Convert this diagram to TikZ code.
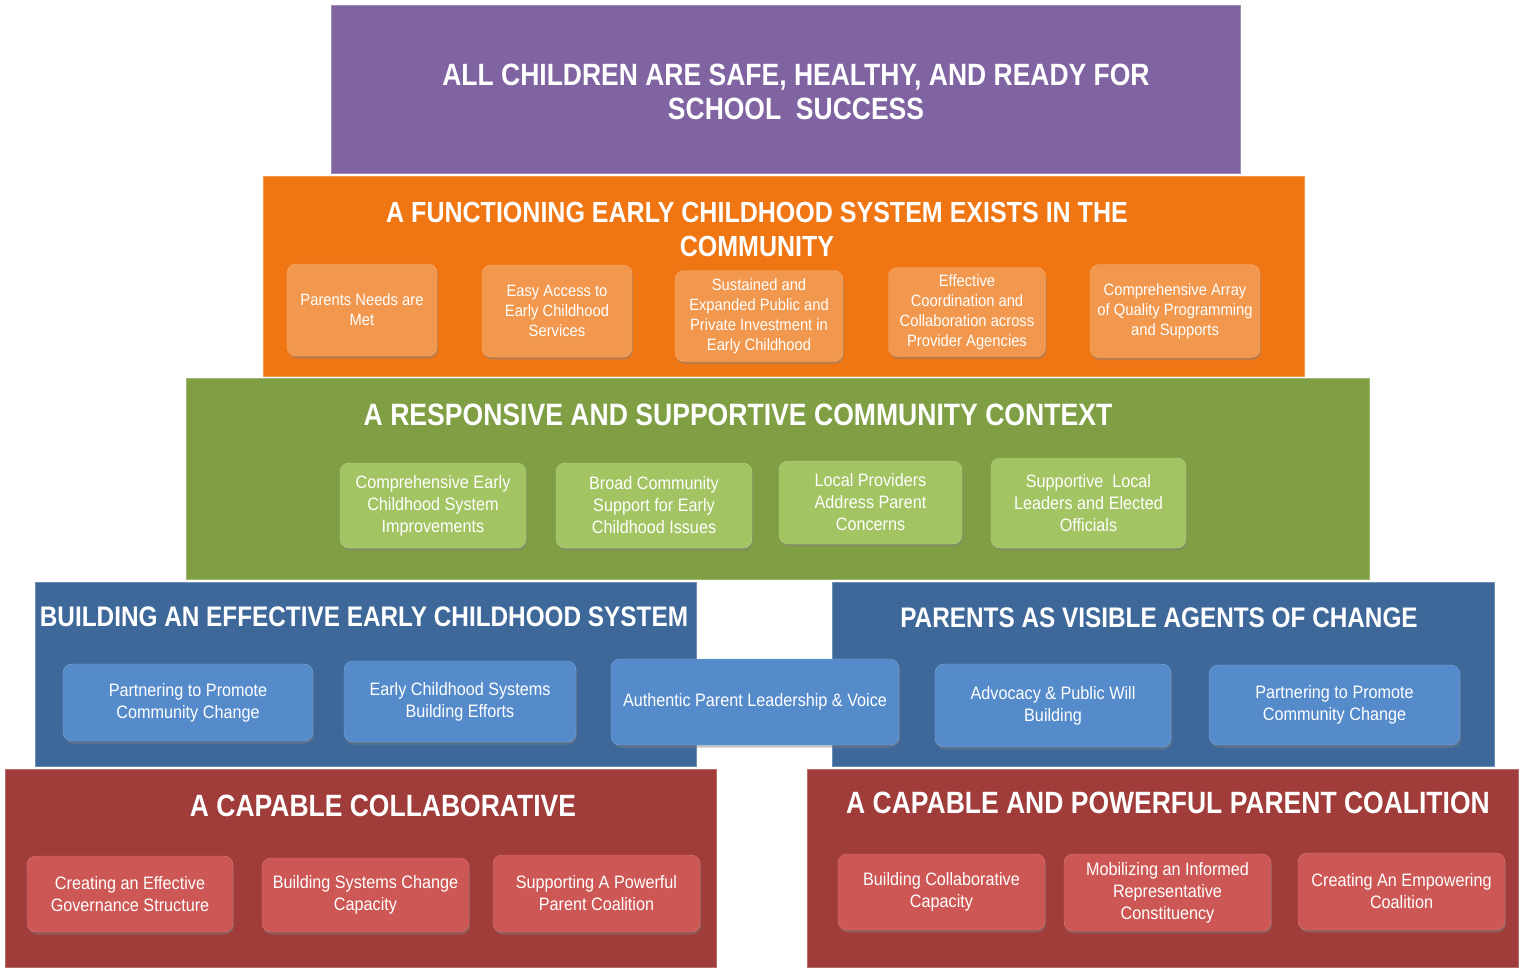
\documentclass[tikz,border=0pt]{standalone}
\usepackage{fontspec}
\setmainfont{Liberation Sans}
\newfontfamily\boxfont[FakeStretch=0.9]{Liberation Sans}
\newfontfamily\headfont[FakeStretch=0.86]{Liberation Sans}
\usepackage{tikz}
\usetikzlibrary{shadows}

\definecolor{purpleband}{HTML}{8064A2}
\definecolor{orangeband}{HTML}{F07613}
\definecolor{orangebox}{HTML}{F2984E}
\definecolor{greenband}{HTML}{809F44}
\definecolor{greenbox}{HTML}{A3C463}
\definecolor{blueband}{HTML}{3D6899}
\definecolor{bluebox}{HTML}{558BCB}
\definecolor{redband}{HTML}{A03C3A}
\definecolor{redbox}{HTML}{CD5755}

\begin{document}
\begin{tikzpicture}[x=1pt,y=-1pt,
    band_node/.style={rectangle,inner sep=0pt,fill=#1,draw=#1!75!white,line width=1pt},
    head_node/.style={text=white,align=center,inner sep=0pt,font=\headfont\bfseries\fontsize{#1}{34}\selectfont},
    head_node/.default=28,
    item_node/.style={rectangle,rounded corners=9pt,fill=#1,draw=#1!80!white,text=white,align=center,inner sep=2pt,
        drop shadow={opacity=0.45,shadow xshift=1pt,shadow yshift=-2.5pt},font=\boxfont\fontsize{18}{22}\selectfont},
    small_item/.style={item_node=#1,font=\boxfont\fontsize{16.4}{20}\selectfont}]
    \useasboundingbox (0,0) rectangle (1520,969);

    % bands
    \node[band_node=purpleband,minimum width=909pt,minimum height=168pt] (top) at (785.5,89) {};
    \node[band_node=orangeband,minimum width=1041pt,minimum height=200pt] (system) at (783.5,276) {};
    \node[band_node=greenband,minimum width=1183pt,minimum height=201pt] (context) at (777.5,478.5) {};
    \node[band_node=blueband,minimum width=661pt,minimum height=184pt] (building) at (365.5,674) {};
    \node[band_node=blueband,minimum width=662pt,minimum height=184pt] (parents) at (1163,674) {};
    \node[band_node=redband,minimum width=711pt,minimum height=198pt] (collab) at (360.5,868) {};
    \node[band_node=redband,minimum width=711pt,minimum height=198pt] (coalition) at (1162.5,868) {};

    % titles
    \node[head_node=30.8] (top_title) at (796,92) {ALL CHILDREN ARE SAFE, HEALTHY, AND READY FOR\\SCHOOL\ \ SUCCESS};
    \node[head_node=29.1] (system_title) at (757,229) {A FUNCTIONING EARLY CHILDHOOD SYSTEM EXISTS IN THE\\COMMUNITY};
    \node[head_node=30.9] (context_title) at (738,415) {A RESPONSIVE AND SUPPORTIVE COMMUNITY CONTEXT};
    \node[head_node=28.3] (building_title) at (364,617) {BUILDING AN EFFECTIVE EARLY CHILDHOOD SYSTEM};
    \node[head_node=28.3] (parents_title) at (1159,618) {PARENTS AS VISIBLE AGENTS OF CHANGE};
    \node[head_node=30.8] (collab_title) at (383,806) {A CAPABLE COLLABORATIVE};
    \node[head_node=30.8] (coalition_title) at (1168,803) {A CAPABLE AND POWERFUL PARENT COALITION};

    % orange items
    \node[small_item=orangebox,minimum width=150pt,minimum height=92pt] (o1) at (362,310) {Parents Needs are\\Met};
    \node[small_item=orangebox,minimum width=150pt,minimum height=92pt] (o2) at (557,311) {Easy Access to\\Early Childhood\\Services};
    \node[small_item=orangebox,minimum width=168pt,minimum height=91pt] (o3) at (759,316) {Sustained and\\Expanded Public and\\Private Investment in\\Early Childhood};
    \node[small_item=orangebox,minimum width=157pt,minimum height=89pt] (o4) at (967,312) {Effective\\Coordination and\\Collaboration across\\Provider Agencies};
    \node[small_item=orangebox,minimum width=170pt,minimum height=93pt] (o5) at (1175,311) {Comprehensive Array\\of Quality Programming\\and Supports};

    % green items
    \node[item_node=greenbox,minimum width=186pt,minimum height=85pt] (g1) at (433,505.5) {Comprehensive Early\\Childhood System\\Improvements};
    \node[item_node=greenbox,minimum width=196pt,minimum height=85pt] (g2) at (654,505.5) {Broad Community\\Support for Early\\Childhood Issues};
    \node[item_node=greenbox,minimum width=183pt,minimum height=83pt] (g3) at (870.5,502.5) {Local Providers\\Address Parent\\Concerns};
    \node[item_node=greenbox,minimum width=195pt,minimum height=90pt] (g4) at (1088.5,503) {Supportive\ \ Local\\Leaders and Elected\\Officials};

    % blue items
    \node[item_node=bluebox,minimum width=250pt,minimum height=77pt] (b1) at (188,702.5) {Partnering to Promote\\Community Change};
    \node[item_node=bluebox,minimum width=232pt,minimum height=81pt] (b2) at (460,701.5) {Early Childhood Systems\\Building Efforts};
    \node[item_node=bluebox,minimum width=288pt,minimum height=86pt] (b3) at (755,702) {Authentic Parent Leadership \& Voice};
    \node[item_node=bluebox,minimum width=236pt,minimum height=83pt] (b4) at (1053,705.5) {Advocacy \& Public Will\\Building};
    \node[item_node=bluebox,minimum width=251pt,minimum height=80pt] (b5) at (1334.5,705) {Partnering to Promote\\Community Change};

    % red items
    \node[item_node=redbox,minimum width=206pt,minimum height=76pt] (r1) at (130,894) {Creating an Effective\\Governance Structure};
    \node[item_node=redbox,minimum width=207pt,minimum height=74pt] (r2) at (365.5,895) {Building Systems Change\\Capacity};
    \node[item_node=redbox,minimum width=207pt,minimum height=77pt] (r3) at (596.5,893.5) {Supporting A Powerful\\Parent Coalition};
    \node[item_node=redbox,minimum width=207pt,minimum height=76pt] (r4) at (941.5,892) {Building Collaborative\\Capacity};
    \node[item_node=redbox,minimum width=207pt,minimum height=77pt] (r5) at (1167.5,892.5) {Mobilizing an Informed\\Representative\\Constituency};
    \node[item_node=redbox,minimum width=207pt,minimum height=77pt] (r6) at (1401.5,891.5) {Creating An Empowering\\Coalition};
\end{tikzpicture}
\end{document}
